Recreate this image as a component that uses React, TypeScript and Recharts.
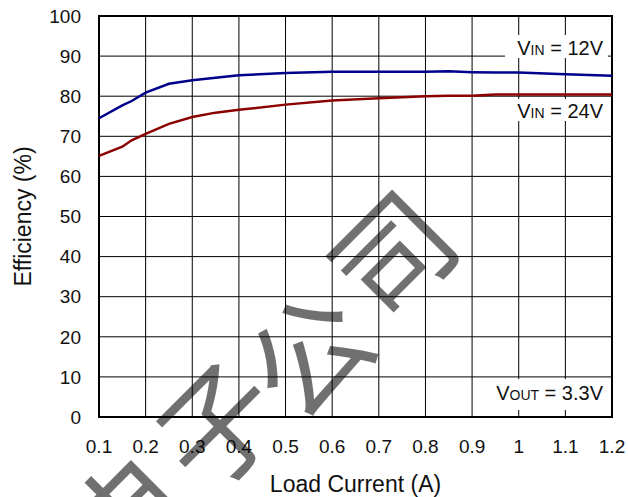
import React from 'react';
import {
    CartesianGrid,
    Line,
    LineChart,
    ReferenceArea,
    XAxis,
    YAxis
} from 'recharts';

// load current (A) at each sample
const loadCurrent = [0.1, 0.15, 0.17, 0.2, 0.25, 0.3, 0.35, 0.4, 0.5, 0.6, 0.7, 0.8, 0.85, 0.9, 0.95, 1.0, 1.1, 1.2];
// efficiency (%) VIN = 12V
const eff12V = [74.5, 77.7, 78.8, 80.9, 83.1, 84.0, 84.6, 85.2, 85.8, 86.1, 86.1, 86.1, 86.2, 86.0, 85.9, 85.9, 85.5, 85.1];
// efficiency (%) VIN = 24V
const eff24V = [65.1, 67.4, 69.0, 70.6, 73.1, 74.8, 75.9, 76.6, 77.9, 78.9, 79.5, 80.0, 80.1, 80.1, 80.4, 80.4, 80.4, 80.4];

const xTicks = [0.1, 0.2, 0.3, 0.4, 0.5, 0.6, 0.7, 0.8, 0.9, 1.0, 1.1, 1.2];
const yTicks = [0, 10, 20, 30, 40, 50, 60, 70, 80, 90, 100];

const watermarkChars = ['电', '子', '公', '司'];

const data = loadCurrent.map((x, i) => ({ x, v12: eff12V[i], v24: eff24V[i] }));

const FONT = "Arial, 'Liberation Sans', sans-serif";

const W = 628;
const H = 497;

// watermark glyph centres (px)
const wmPos = [
    [122, 512],
    [213, 420],
    [304, 350],
    [388, 250],
];

const Overlay = () => (
    <svg
        width={W}
        height={H}
        style={{ position: 'absolute', left: 0, top: 0, pointerEvents: 'none' }}
    >
        {/* annotation boxes */}
        <rect x={505} y={35} width={103} height={23} fill="#fff" />
        <text x={603} y={55} textAnchor="end" fontFamily={FONT} fontSize={20} fill="#111">
            V<tspan fontSize={14}>IN</tspan> = 12V
        </text>
        <rect x={505} y={99} width={103} height={22} fill="#fff" />
        <text x={603} y={118} textAnchor="end" fontFamily={FONT} fontSize={20} fill="#111">
            V<tspan fontSize={14}>IN</tspan> = 24V
        </text>
        <rect x={479} y={379} width={129} height={31} fill="#fff" />
        <text x={603} y={400} textAnchor="end" fontFamily={FONT} fontSize={20} fill="#111">
            V<tspan fontSize={14}>OUT</tspan> = 3.3V
        </text>

        {/* watermark */}
        {watermarkChars.map((c, i) => (
            <text
                key={i}
                x={wmPos[i][0]}
                y={wmPos[i][1]}
                textAnchor="middle"
                dominantBaseline="central"
                fontFamily="'Noto Sans CJK SC', sans-serif"
                fontSize={118}
                fill="#000"
                fillOpacity={0.56}
                transform={`rotate(-45 ${wmPos[i][0]} ${wmPos[i][1]})`}
            >
                {c}
            </text>
        ))}
    </svg>
);

export default function App() {
    return (
        <div style={{ position: 'absolute', left: 0, top: 0, width: W, height: H, background: '#fff' }}>
            <LineChart
                width={W}
                height={H}
                data={data}
                margin={{ top: 16, right: 16, bottom: 0, left: 0 }}
            >
                <CartesianGrid stroke="#000" strokeWidth={1} ticks={yTicks} />
                <XAxis
                    dataKey="x"
                    type="number"
                    domain={[0.1, 1.2]}
                    ticks={xTicks}
                    interval={0}
                    height={80}
                    tickLine={false}
                    axisLine={false}
                    tickSize={0}
                    tickMargin={23}
                    tickFormatter={(v: number) => String(Math.round(v * 10) / 10)}
                    tick={{ fill: '#111', fontSize: 19, fontFamily: FONT }}
                    label={{
                        value: 'Load Current (A)',
                        position: 'insideBottom',
                        offset: 5,
                        fill: '#111',
                        fontSize: 23,
                        fontFamily: FONT
                    }}
                />
                <YAxis
                    type="number"
                    domain={[0, 100]}
                    ticks={yTicks}
                    interval={0}
                    width={99}
                    tickLine={false}
                    axisLine={false}
                    tickSize={0}
                    tickMargin={18}
                    tick={{ fill: '#111', fontSize: 19, fontFamily: FONT }}
                    label={{
                        value: 'Efficiency (%)',
                        angle: -90,
                        position: 'insideLeft',
                        offset: 23,
                        fill: '#111',
                        fontSize: 23,
                        fontFamily: FONT,
                        style: { textAnchor: 'middle' }
                    }}
                />
                <ReferenceArea x1={0.1} x2={1.2} y1={0} y2={100} fill="none" stroke="#000" strokeWidth={2} />
                <Line
                    dataKey="v12"
                    type="linear"
                    stroke="#00008b"
                    strokeWidth={2.5}
                    dot={false}
                    isAnimationActive={false}
                />
                <Line
                    dataKey="v24"
                    type="linear"
                    stroke="#8b0000"
                    strokeWidth={2.5}
                    dot={false}
                    isAnimationActive={false}
                />
            </LineChart>
            <Overlay />
        </div>
    );
}
